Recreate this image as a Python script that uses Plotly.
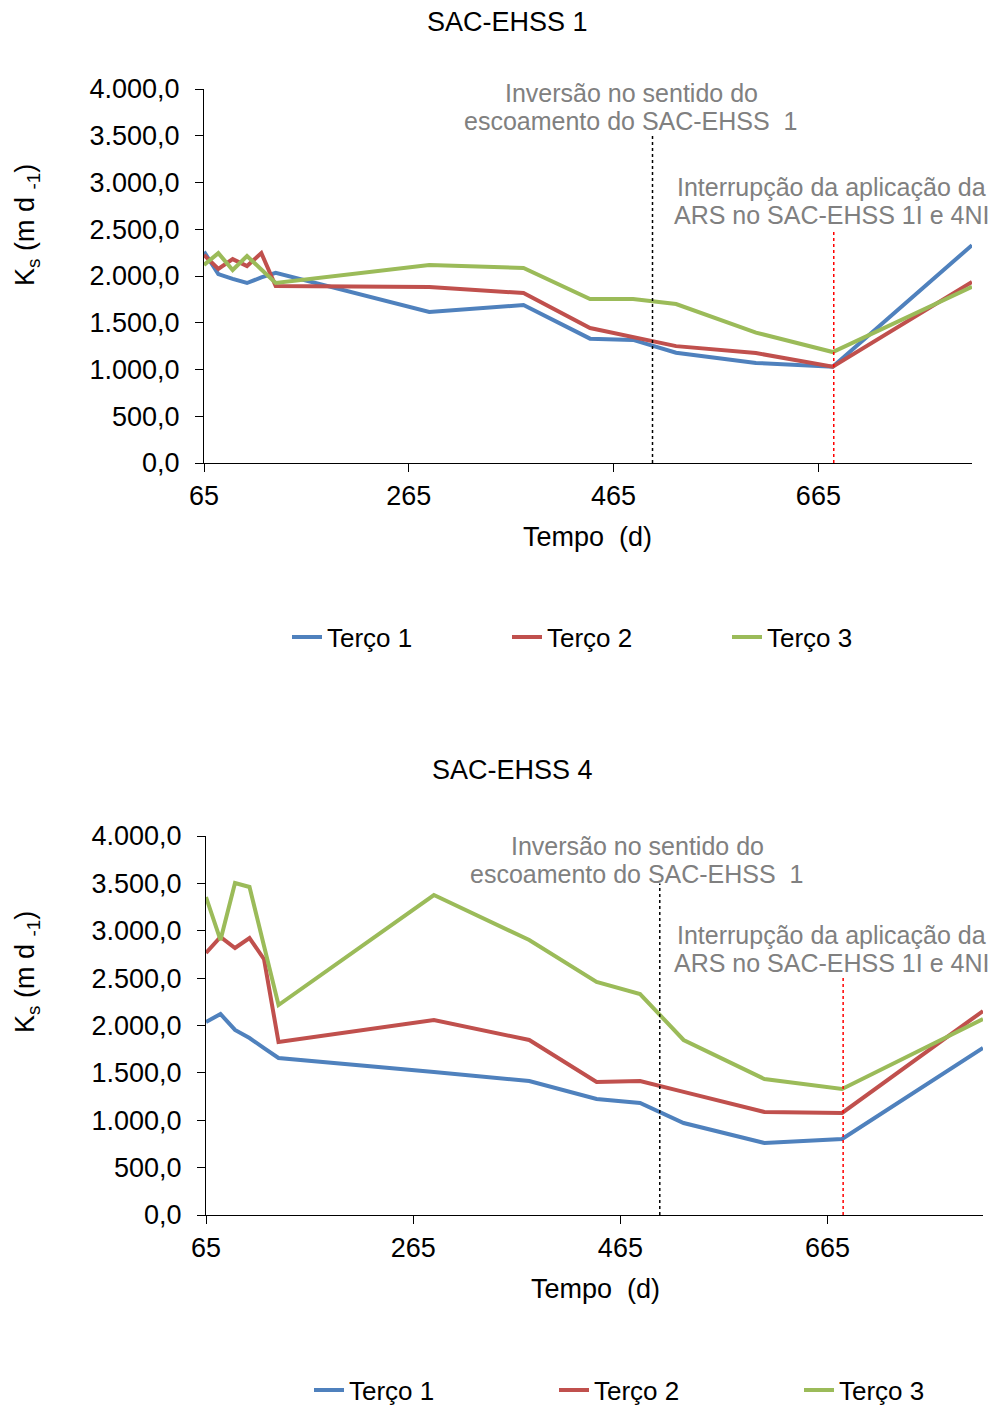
import plotly.graph_objects as go

# ---------------- data ----------------
days = [65, 79, 93, 107, 121, 135, 285, 377, 442, 484, 526, 604, 679, 815]

# SAC-EHSS 1
s1_terco1 = [2260, 2021, 1970, 1925, 1985, 2035, 1615, 1690, 1330, 1316, 1180, 1070, 1030, 2330]
s1_terco2 = [2225, 2075, 2180, 2107, 2245, 1893, 1882, 1818, 1444, 1350, 1250, 1176, 1030, 1936]
s1_terco3 = [2118, 2245, 2064, 2214, 2070, 1925, 2118, 2085, 1754, 1754, 1700, 1395, 1187, 1885]

# SAC-EHSS 4
s4_terco1 = [2037, 2121, 1953, 1868, 1760, 1657, 1509, 1414, 1224, 1182, 971, 760, 802, 1763]
s4_terco2 = [2765, 2934, 2818, 2923, 2700, 1826, 2058, 1847, 1404, 1414, 1300, 1087, 1077, 2153]
s4_terco3 = [3356, 2902, 3504, 3462, 2840, 2216, 3377, 2902, 2460, 2332, 1847, 1435, 1330, 2069]

series_names = ["Terço 1", "Terço 2", "Terço 3"]
colors = ["#4F81BD", "#C0504D", "#9BBB59"]

x_ticks = [65, 265, 465, 665]
x_range = [65, 815]
y_range = [0, 4000]
y_ticks = [0, 500, 1000, 1500, 2000, 2500, 3000, 3500, 4000]

inversion_day = 503
interruption_day = 680
inversion_top = 3500
interruption_top = 2500

inv_lines = ["Inversão no sentido do", "escoamento do SAC-EHSS  1"]
int_lines = ["Interrupção da aplicação da", "ARS no SAC-EHSS 1I e 4NI"]

W, H = 997, 1407
FONT = "Liberation Sans, Arial, sans-serif"

fig = go.Figure()

for vals, name, col in zip([s1_terco1, s1_terco2, s1_terco3], series_names, colors):
    fig.add_trace(go.Scatter(x=days, y=vals, mode="lines", name=name,
                             line=dict(color=col, width=4), xaxis="x", yaxis="y",
                             legend="legend"))
for vals, name, col in zip([s4_terco1, s4_terco2, s4_terco3], series_names, colors):
    fig.add_trace(go.Scatter(x=days, y=vals, mode="lines", name=name,
                             line=dict(color=col, width=4), xaxis="x2", yaxis="y2",
                             legend="legend2"))

def px_x(p):
    return p / W

def px_y(p):
    return 1 - p / H

axis_common = dict(showgrid=False, zeroline=False, showline=True, linecolor="black",
                   linewidth=1, ticks="outside", ticklen=8, tickcolor="black",
                   automargin=False,
                   tickfont=dict(family=FONT, size=27, color="black"))

fig.update_layout(
    width=W, height=H,
    margin=dict(l=0, r=0, t=0, b=0, autoexpand=False),
    paper_bgcolor="white", plot_bgcolor="white",
    separators=",.",
    font=dict(family=FONT, size=27, color="black"),
    xaxis=dict(domain=[px_x(204), px_x(972)], anchor="y", range=x_range,
               tickvals=x_ticks, ticklabelstandoff=1, **axis_common),
    yaxis=dict(domain=[px_y(463), px_y(89)], anchor="x", range=y_range,
               tickvals=y_ticks, tickformat=",.1f", ticklabelstandoff=10, **axis_common),
    xaxis2=dict(domain=[px_x(206), px_x(983)], anchor="y2", range=x_range,
                tickvals=x_ticks, ticklabelstandoff=1, **axis_common),
    yaxis2=dict(domain=[px_y(1215), px_y(836)], anchor="x2", range=y_range,
                tickvals=y_ticks, tickformat=",.1f", ticklabelstandoff=10, **axis_common),
    legend=dict(orientation="h", x=px_x(287), xanchor="left", y=px_y(637), yanchor="middle",
                entrywidth=175, entrywidthmode="pixels",
                font=dict(family=FONT, size=26, color="black"), bgcolor="rgba(0,0,0,0)"),
    legend2=dict(orientation="h", x=px_x(309), xanchor="left", y=px_y(1390), yanchor="middle",
                 entrywidth=200, entrywidthmode="pixels",
                 font=dict(family=FONT, size=26, color="black"), bgcolor="rgba(0,0,0,0)"),
    showlegend=True,
)

# vertical dotted lines
for xa, ya in [("x", "y"), ("x2", "y2")]:
    fig.add_shape(type="line", xref=xa, yref=ya, x0=inversion_day, x1=inversion_day,
                  y0=0, y1=inversion_top, line=dict(color="black", width=1.5, dash="dot"))
    fig.add_shape(type="line", xref=xa, yref=ya, x0=interruption_day, x1=interruption_day,
                  y0=0, y1=interruption_top, line=dict(color="#FF0000", width=1.5, dash="dot"))

gray = "#808080"
ann = []

def add_text(text, cx, cy, size=27, color="black", angle=0):
    ann.append(dict(text=text, x=px_x(cx), y=px_y(cy), xref="paper", yref="paper",
                    xanchor="center", yanchor="middle", showarrow=False, align="center",
                    textangle=angle, font=dict(family=FONT, size=size, color=color)))

# chart titles
add_text("SAC-EHSS 1", 507, 22)
add_text("SAC-EHSS 4", 512, 770)
# x titles
add_text("Tempo  (d)", 587, 537)
add_text("Tempo  (d)", 595, 1289)
# y titles
ytitle = "K<sub>s</sub> (m d <sub>-1</sub>)"
add_text(ytitle, 27, 225, angle=-90)
add_text(ytitle, 27, 972, angle=-90)
# event annotations (one annotation per line to match tight line spacing)
for (cx, cy), lines in [((631, 93), inv_lines), ((831, 187), int_lines),
                        ((637, 846), inv_lines), ((831, 935), int_lines)]:
    for i, line in enumerate(lines):
        add_text(line, cx, cy + 28 * i, size=25, color=gray)

fig.update_layout(annotations=ann)

fig.write_html("out.html")
